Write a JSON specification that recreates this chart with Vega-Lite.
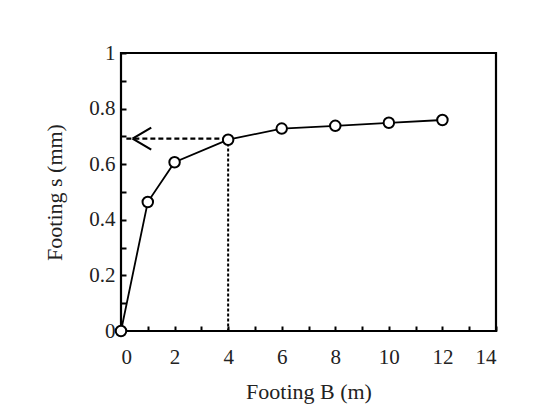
{
  "$schema": "https://vega.github.io/schema/vega-lite/v6.json",
  "autosize": "none",
  "width": 375,
  "height": 278,
  "padding": {"left": 121, "top": 53, "right": 46, "bottom": 79},
  "background": "white",
  "config": {
    "view": {"stroke": "black", "strokeWidth": 2.2},
    "font": "Liberation Serif"
  },
  "datasets": {
    "curve": [
      {"B": 0, "s": 0},
      {"B": 1, "s": 0.464},
      {"B": 2, "s": 0.607},
      {"B": 4, "s": 0.688},
      {"B": 6, "s": 0.728},
      {"B": 8, "s": 0.738},
      {"B": 10, "s": 0.749},
      {"B": 12, "s": 0.759}
    ],
    "guides": [
      {"B": 0.2, "B2": 4, "s": 0.692, "s2": 0.692, "kind": "h"},
      {"B": 4, "B2": 4, "s": 0.692, "s2": 0, "kind": "v"}
    ],
    "arrow": [{"B": 0.78, "s": 0.692}]
  },
  "encoding": {
    "x": {"field": "B", "type": "quantitative", "scale": {"domain": [0, 14]},
      "axis": {"values": [0,1,2,3,4,5,6,7,8,9,10,11,12,13,14],
        "labelOpacity": {"condition": {"test": "datum.value % 2 != 0", "value": 0}, "value": 1},
        "title": "Footing B (m)", "grid": false, "domain": false, "ticks": true,
        "tickColor": "black", "tickWidth": 2, "tickSize": -5,
        "labelPadding": 20, "labelFont": "Liberation Serif", "labelFontSize": 21, "labelColor": "#222",
        "titlePadding": 14, "titleFont": "Liberation Serif", "titleFontSize": 22, "titleFontWeight": "normal", "titleColor": "#222"}},
    "y": {"field": "s", "type": "quantitative", "scale": {"domain": [0, 1]},
      "axis": {"values": [0,0.1,0.2,0.3,0.4,0.5,0.6,0.7,0.8,0.9,1], "format": "~g",
        "labelExpr": "(datum.value == 0 || datum.value == 0.2 || datum.value == 0.4 || datum.value == 0.6 || datum.value == 0.8 || datum.value == 1) ? datum.label : ''",
        "title": "Footing s (mm)", "grid": false, "domain": false, "ticks": true,
        "tickColor": "black", "tickWidth": 2, "tickSize": -5,
        "labelPadding": 11, "labelFont": "Liberation Serif", "labelFontSize": 21, "labelColor": "#222",
        "titlePadding": 22, "titleFont": "Liberation Serif", "titleFontSize": 22, "titleFontWeight": "normal", "titleColor": "#222"}}
  },
  "layer": [
    {
      "data": {"name": "curve"},
      "mark": {"type": "line", "color": "black", "strokeWidth": 1.8}
    },
    {
      "data": {"name": "guides"},
      "transform": [{"filter": "datum.kind == 'h'"}],
      "mark": {"type": "rule", "color": "black", "strokeWidth": 2.2, "strokeDash": [5, 3]},
      "encoding": {"x2": {"field": "B2"}}
    },
    {
      "data": {"name": "guides"},
      "transform": [{"filter": "datum.kind == 'v'"}],
      "mark": {"type": "rule", "color": "black", "strokeWidth": 2, "strokeDash": [3, 2]},
      "encoding": {"y2": {"field": "s2"}}
    },
    {
      "data": {"name": "arrow"},
      "mark": {"type": "point", "shape": "M-0.85,0L0.85,-1M-0.85,0L0.85,1", "size": 484, "stroke": "black", "strokeWidth": 2.2, "filled": false, "opacity": 1}
    },
    {
      "data": {"name": "curve"},
      "mark": {"type": "point", "shape": "circle", "size": 110, "fill": "white", "stroke": "black", "strokeWidth": 2, "filled": true, "opacity": 1}
    }
  ]
}
